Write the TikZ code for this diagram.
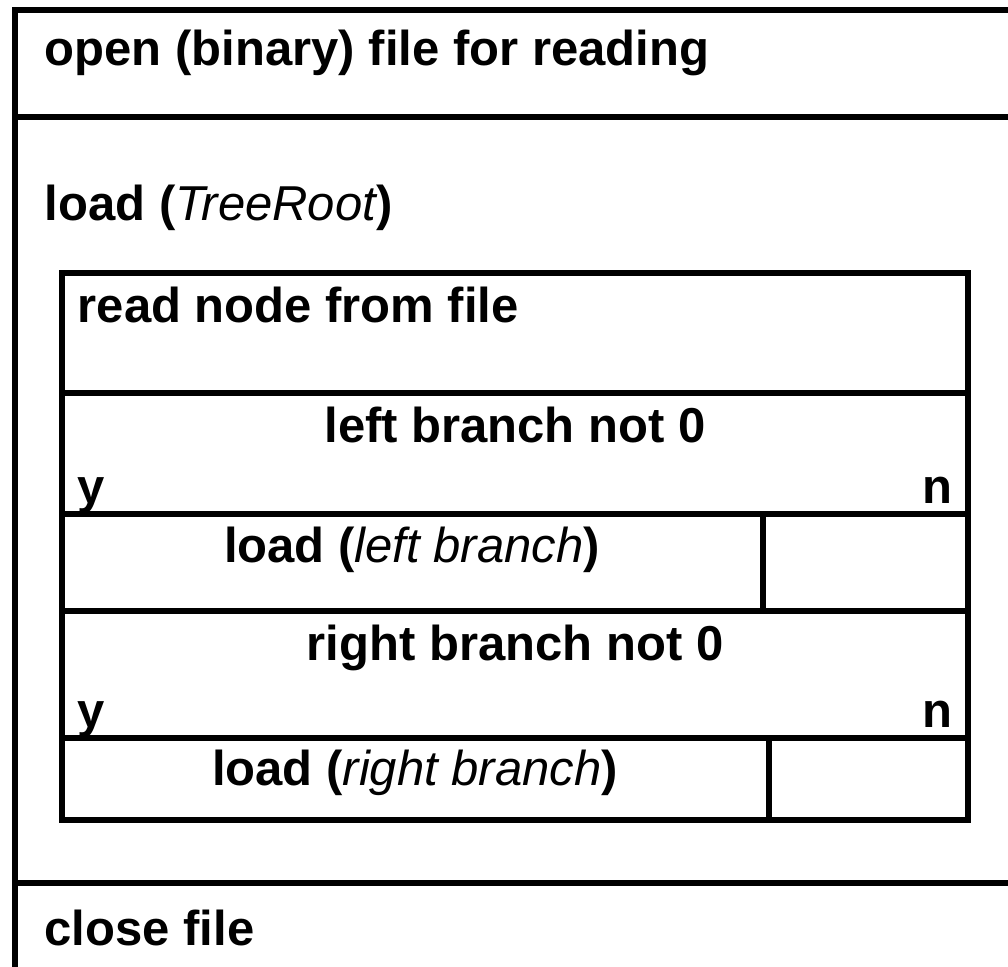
\documentclass[tikz,border=0pt]{standalone}
\usepackage{fontspec}
\setmainfont{Liberation Sans}
\newcommand{\itpart}[1]{{\mdseries\itshape #1}}
\begin{document}
\begin{tikzpicture}[x=1pt,y=-1pt,line width=5.5pt,
  lbl/.style={font=\fontsize{49}{58}\selectfont\bfseries, inner sep=0pt}]
\useasboundingbox (0,0) rectangle (1008,966);
% outer sequence
\draw (1012,10) -- (15,10) -- (15,972);
\draw (15,117) -- (1012,117);
\draw (15,883) -- (1012,883);
% inner block
\draw (62,273) rectangle (968,820);
\draw (62,393) -- (968,393);
\draw (62,514) -- (968,514);
\draw (62,611) -- (968,611);
\draw (62,738) -- (968,738);
\draw (763,514) -- (763,611);
\draw (769,738) -- (769,820);
% texts
\node[lbl, anchor=base west] (open) at (42,65) {open (binary) file for reading};
\node[lbl, anchor=base west] (load) at (42,220) {load (\itpart{TreeRoot})};
\node[lbl, anchor=base west] (read) at (75,322) {read node from file};
\node[lbl, anchor=base] (cond1) at (515,442) {left branch not 0};
\node[lbl, anchor=base west] (y1) at (75,503) {y};
\node[lbl, anchor=base east] (n1) at (955,503) {n};
\node[lbl, anchor=base] (loadl) at (412,562) {load (\itpart{left branch})};
\node[lbl, anchor=base] (cond2) at (515,660) {right branch not 0};
\node[lbl, anchor=base west] (y2) at (75,727) {y};
\node[lbl, anchor=base east] (n2) at (955,727) {n};
\node[lbl, anchor=base] (loadr) at (415,785) {load (\itpart{right branch})};
\node[lbl, anchor=base west] (close) at (42,945) {close file};
\end{tikzpicture}
\end{document}
